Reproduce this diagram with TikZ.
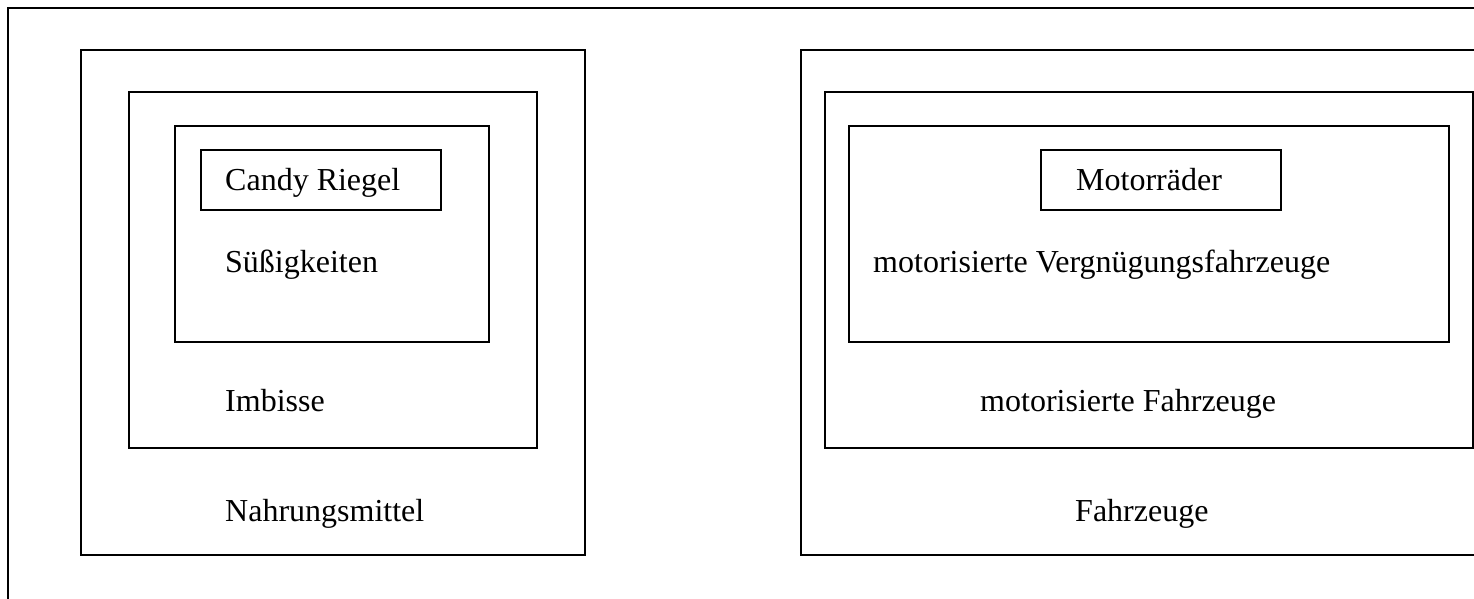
\documentclass[tikz,border=0pt]{standalone}
\usepackage{fontspec}
\setmainfont{Liberation Serif}
\begin{document}
\begin{tikzpicture}[x=1pt,y=-1pt,
  boxline/.style={draw=black,line width=1.3pt},
  lbl/.style={anchor=base west,inner sep=0pt,font=\fontsize{32}{38}\selectfont}]
\clip (0,0) rectangle (1474,599);
\fill[white] (0,0) rectangle (1474,599);
% outer frame (extends beyond the picture)
\draw[boxline] (8,8) rectangle (1500,640);
% left stack
\draw[boxline] (81,50) rectangle (585,555);
\draw[boxline] (129,92) rectangle (537,448);
\draw[boxline] (175,126) rectangle (489,342);
\draw[boxline] (201,150) rectangle (441,210);
% right stack
\draw[boxline] (801,50) rectangle (1500,555);
\draw[boxline] (825,92) rectangle (1473,448);
\draw[boxline] (849,126) rectangle (1449,342);
\draw[boxline] (1041,150) rectangle (1281,210);
% labels
\node[lbl] (candy) at (225,190) {Candy Riegel};
\node[lbl] (suess) at (225,272) {Süßigkeiten};
\node[lbl] (imb) at (225,411) {Imbisse};
\node[lbl] (nahr) at (225,521) {Nahrungsmittel};
\node[lbl] (motr) at (1076,190) {Motorräder};
\node[lbl] (mvf) at (873,272) {motorisierte Vergnügungsfahrzeuge};
\node[lbl] (mf) at (980,411) {motorisierte Fahrzeuge};
\node[lbl] (fz) at (1075,521) {Fahrzeuge};
\end{tikzpicture}
\end{document}
